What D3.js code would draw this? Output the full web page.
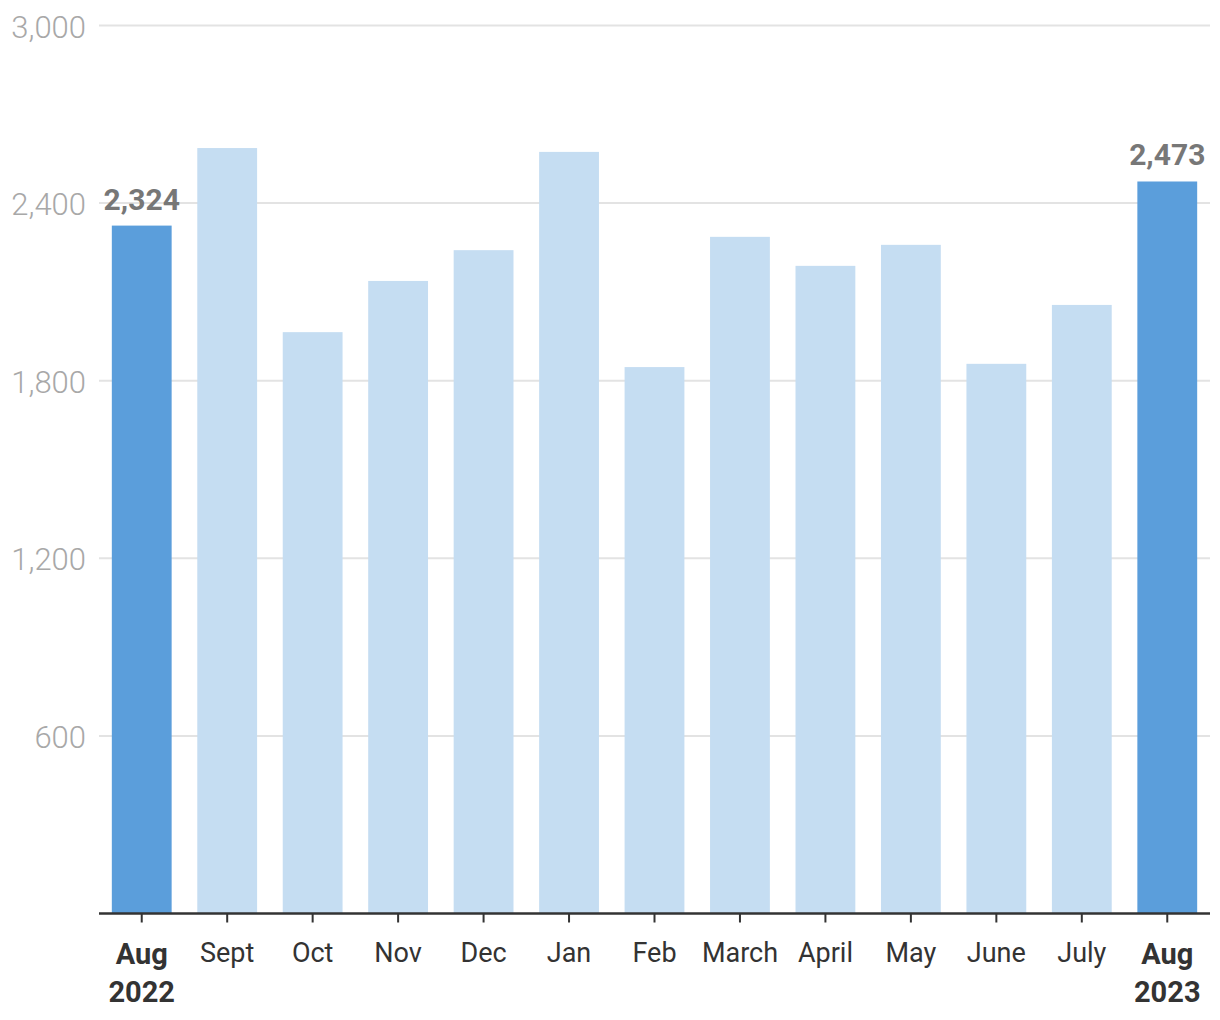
<!DOCTYPE html>
<html><head><meta charset="utf-8">
<script src="https://cdn.jsdelivr.net/npm/d3@7"></script>
<style>
html,body{margin:0;padding:0;background:#fff;}
svg text{font-family:Roboto,"Noto Sans",sans-serif;}
</style></head>
<body><svg id="c" width="1220" height="1020"></svg>
<script>
const months = ["Aug 2022","Sept","Oct","Nov","Dec","Jan","Feb","March","April","May","June","July","Aug 2023"];
const values = [2324,2586,1964,2137,2241,2573,1846,2286,2188,2259,1857,2056,2473];
const highlighted = ["Aug 2022","Aug 2023"];
const yTicks = [600,1200,1800,2400,3000];

(function(){
const svg = d3.select("#c");
const mLeft = 99, mRight = 1210, mTop = 25.5, mBottom = 913.5;
const x = d3.scaleBand().domain(months).range([mLeft,mRight]).paddingInner(0.3).paddingOuter(0.15);
const y = d3.scaleLinear().domain([0,3000]).range([mBottom,mTop]);

// gridlines
svg.append("g").selectAll("line").data(yTicks).join("line")
  .attr("x1",mLeft).attr("x2",mRight)
  .attr("y1",d=>y(d)).attr("y2",d=>y(d))
  .attr("stroke","#e3e3e3").attr("stroke-width",2);

// y labels
svg.append("g").selectAll("text").data(yTicks).join("text")
  .attr("x",86).attr("y",d=>y(d)+12)
  .attr("text-anchor","end")
  .attr("font-size",31).attr("font-weight",300).attr("fill","#a8a8a8")
  .text(d=>d3.format(",")(d));

// bars
svg.append("g").selectAll("rect").data(months).join("rect")
  .attr("x",d=>x(d)).attr("width",x.bandwidth())
  .attr("y",(d,i)=>y(values[i])).attr("height",(d,i)=>mBottom-y(values[i]))
  .attr("fill",d=>highlighted.includes(d)?"#5b9edb":"#c5ddf2");

// value labels
svg.append("g").selectAll("text").data(months.filter(m=>highlighted.includes(m))).join("text")
  .attr("x",d=>x(d)+x.bandwidth()/2)
  .attr("y",d=>y(values[months.indexOf(d)])-16)
  .attr("text-anchor","middle").attr("font-size",30).attr("font-weight",700).attr("fill","#777777")
  .text(d=>d3.format(",")(values[months.indexOf(d)]));

// x axis
const xAxis = d3.axisBottom(x).tickSize(9).tickFormat("");
const ax = svg.append("g").attr("transform",`translate(0,${mBottom})`).call(xAxis);
ax.select(".domain").attr("stroke","#333").attr("stroke-width",2.5).attr("d",`M${mLeft},0H${mRight}`);
ax.selectAll(".tick line").attr("stroke","#333").attr("stroke-width",2);

// x labels
const lab = svg.append("g").selectAll("text").data(months).join("text")
  .attr("x",d=>x(d)+x.bandwidth()/2)
  .attr("y",962)
  .attr("text-anchor","middle").attr("fill","#333")
  .attr("font-size",d=>highlighted.includes(d)?29:27)
  .attr("font-weight",d=>highlighted.includes(d)?700:400);
lab.each(function(d){
  const t = d3.select(this);
  if(highlighted.includes(d)){
    const parts = d.split(" ");
    t.append("tspan").attr("x",x(d)+x.bandwidth()/2).attr("y",964).text(parts[0]);
    t.append("tspan").attr("x",x(d)+x.bandwidth()/2).attr("y",1002).text(parts[1]);
  } else t.text(d);
});
})();
</script></body></html>
